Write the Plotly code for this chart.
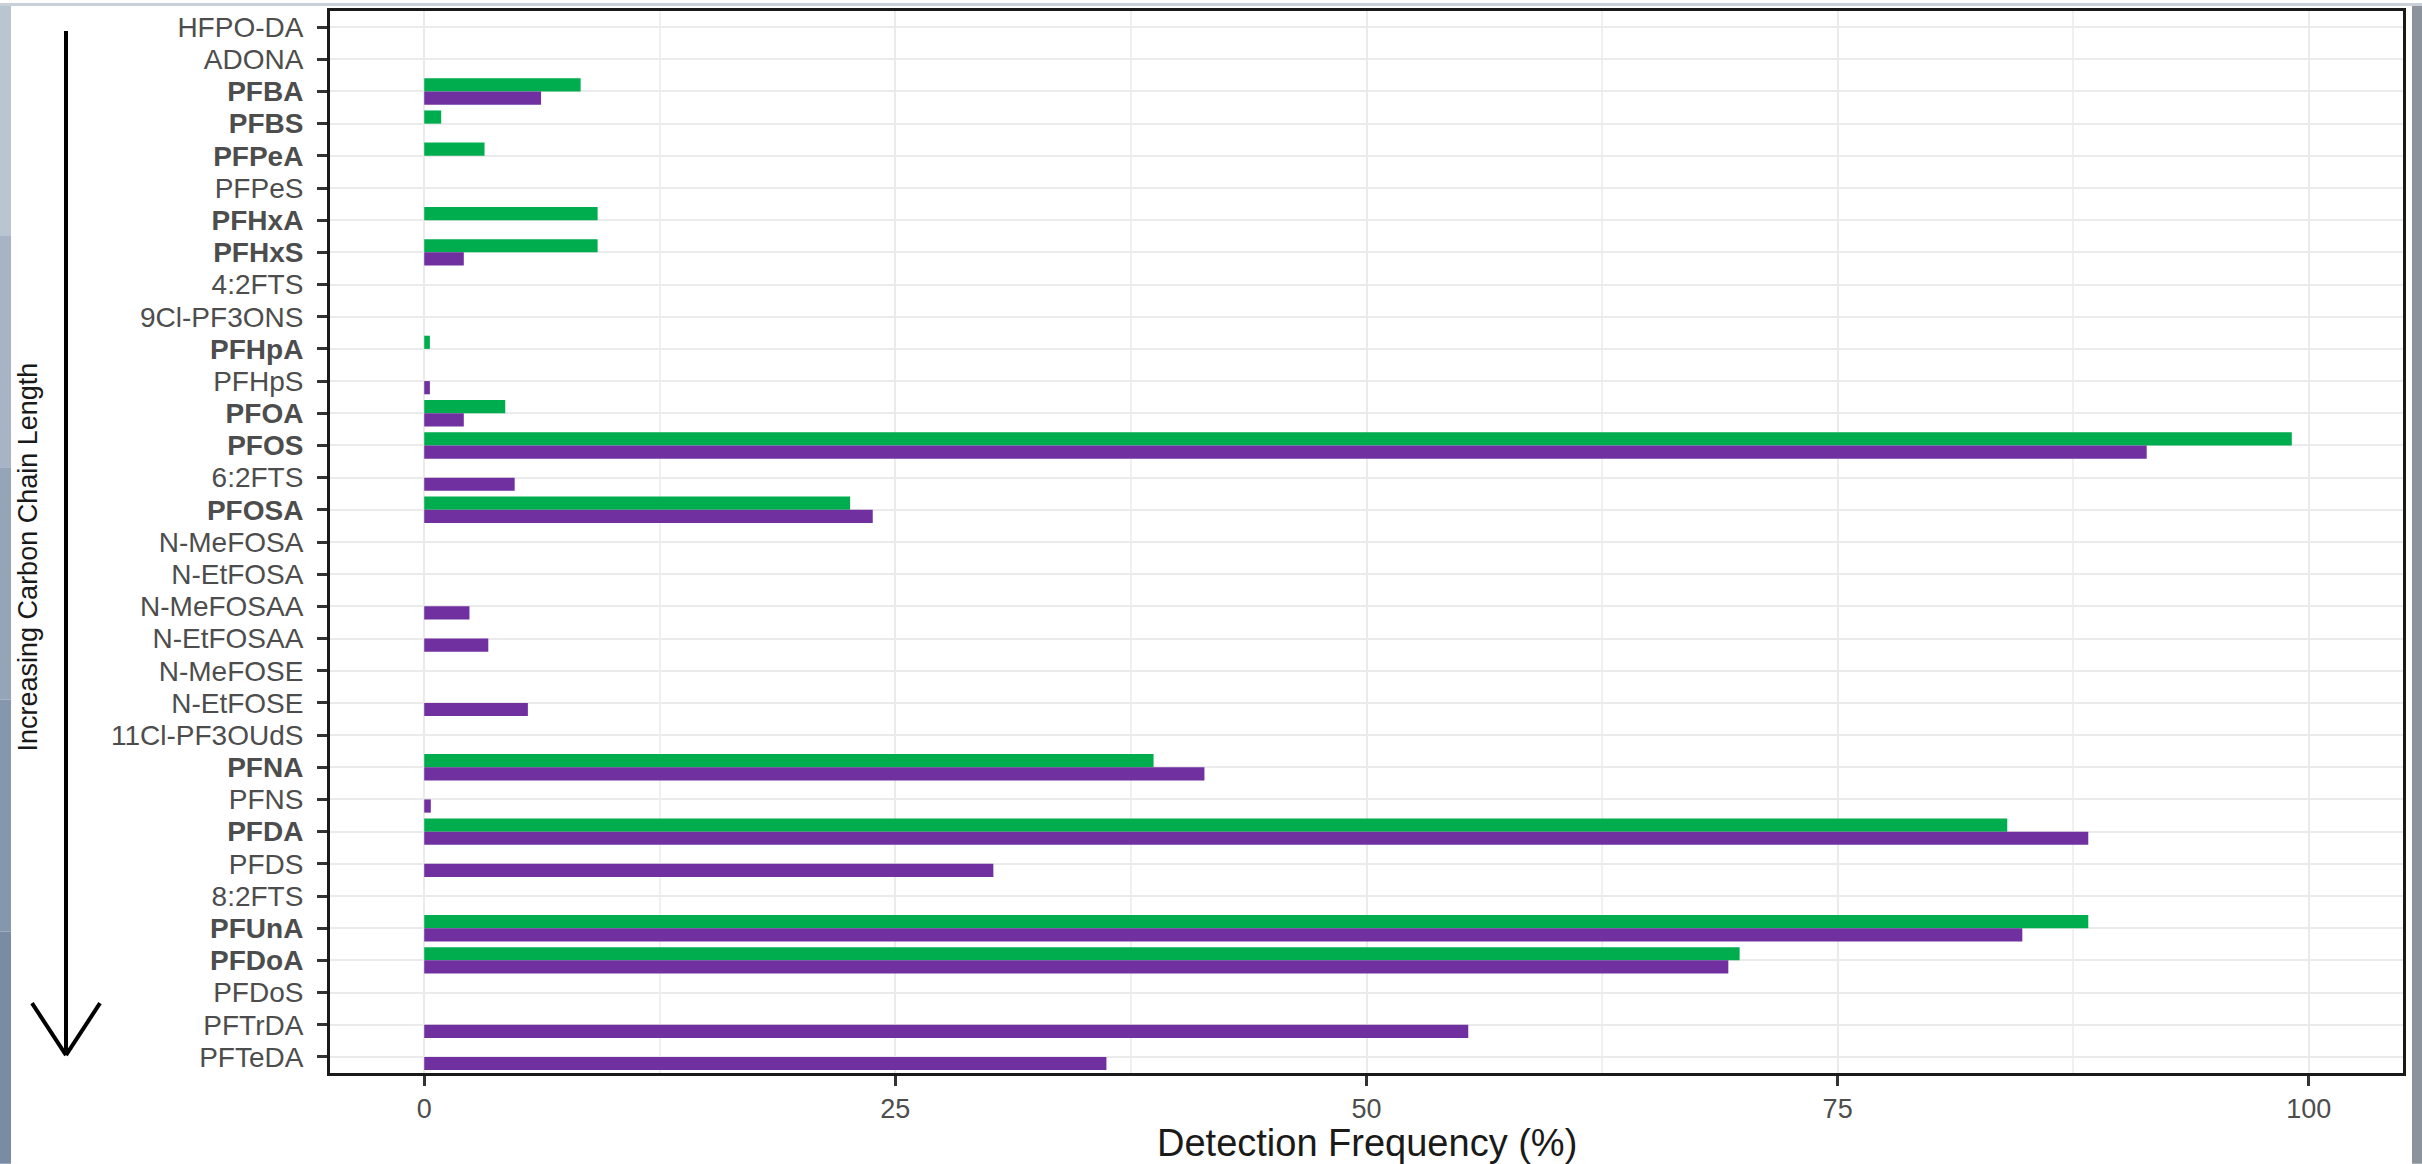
import plotly.graph_objects as go

# ---------------- data ----------------
compounds = [
    "HFPO-DA", "ADONA", "PFBA", "PFBS", "PFPeA", "PFPeS", "PFHxA", "PFHxS",
    "4:2FTS", "9Cl-PF3ONS", "PFHpA", "PFHpS", "PFOA", "PFOS", "6:2FTS", "PFOSA",
    "N-MeFOSA", "N-EtFOSA", "N-MeFOSAA", "N-EtFOSAA", "N-MeFOSE", "N-EtFOSE",
    "11Cl-PF3OUdS", "PFNA", "PFNS", "PFDA", "PFDS", "8:2FTS", "PFUnA", "PFDoA",
    "PFDoS", "PFTrDA", "PFTeDA",
]
bold_compounds = ["PFBA", "PFBS", "PFPeA", "PFHxA", "PFHxS", "PFHpA", "PFOA",
                  "PFOS", "PFOSA", "PFNA", "PFDA", "PFUnA", "PFDoA"]

green_values = [0, 0, 8.3, 0.9, 3.2, 0, 9.2, 9.2, 0, 0, 0.3, 0, 4.3, 99.1, 0, 22.6,
                0, 0, 0, 0, 0, 0, 0, 38.7, 0, 84.0, 0, 0, 88.3, 69.8, 0, 0, 0]
purple_values = [0, 0, 6.2, 0, 0, 0, 0, 2.1, 0, 0, 0, 0.3, 2.1, 91.4, 4.8, 23.8,
                 0, 0, 2.4, 3.4, 0, 5.5, 0, 41.4, 0.35, 88.3, 30.2, 0, 84.8, 69.2, 0, 55.4, 36.2]

x_ticks = [0, 25, 50, 75, 100]

# ---------------- layout geometry (pixels) ----------------
W, H = 2422, 1164
ML, MR, MT, MB = 330, 19, 8, 91
PW, PH = W - ML - MR, H - MT - MB

def px_x(p):  # pixel -> paper x
    return (p - ML) / PW

def px_y(p):  # pixel -> paper y
    return (H - MB - p) / PH

ticktext = [f"<b>{c}</b>" if c in bold_compounds else c for c in compounds]

fig = go.Figure()
fig.add_trace(go.Bar(y=compounds, x=green_values, orientation="h", name="Series 1",
                     marker=dict(color="#00AD4E", line=dict(width=0))))
fig.add_trace(go.Bar(y=compounds, x=purple_values, orientation="h", name="Series 2",
                     marker=dict(color="#7030A0", line=dict(width=0))))

font_family = "Liberation Sans, Arial, Helvetica, sans-serif"

fig.update_layout(
    width=W, height=H,
    margin=dict(l=ML, r=MR, t=MT, b=MB, pad=0),
    paper_bgcolor="white", plot_bgcolor="white",
    barmode="group", bargap=0.18, bargroupgap=0,
    showlegend=False,
    font=dict(family=font_family),
)

fig.update_xaxes(
    range=[-5, 105], tickvals=x_ticks, ticktext=[str(v) for v in x_ticks],
    showgrid=True, gridcolor="#EBEBEB", gridwidth=2,
    minor=dict(dtick=12.5, tick0=0, showgrid=True, gridcolor="#F0F0F0", gridwidth=1.5),
    ticks="outside", ticklen=10, tickwidth=2.5, tickcolor="#333333",
    tickfont=dict(size=27, color="#4D4D4D", family=font_family),
    showline=True, linecolor="#1A1A1A", linewidth=3, mirror=True,
    zeroline=False,
)
fig.update_yaxes(
    type="category", categoryorder="array", categoryarray=compounds,
    autorange="reversed",
    tickvals=compounds, ticktext=ticktext,
    showgrid=True, gridcolor="#EBEBEB", gridwidth=2,
    ticks="outside", ticklen=10, tickwidth=2.5, tickcolor="#333333",
    tickfont=dict(size=28, color="#4D4D4D", family=font_family),
    ticklabelstandoff=8,
    showline=True, linecolor="#1A1A1A", linewidth=3, mirror=True,
    zeroline=False,
)

shapes = []
# arrow on the left
shapes.append(dict(type="line", xref="paper", yref="paper",
                   x0=px_x(66), x1=px_x(66), y0=px_y(28), y1=px_y(1055),
                   line=dict(color="black", width=4)))
shapes.append(dict(type="line", xref="paper", yref="paper",
                   x0=px_x(32), x1=px_x(66), y0=px_y(1003), y1=px_y(1055),
                   line=dict(color="black", width=4)))
shapes.append(dict(type="line", xref="paper", yref="paper",
                   x0=px_x(100), x1=px_x(66), y0=px_y(1003), y1=px_y(1055),
                   line=dict(color="black", width=4)))
# screenshot frame strips
strip_cols = ["#BAC5D2", "#A7B4C5", "#95A5B8", "#8597AD", "#7A8CA3"]
n = len(strip_cols)
for i, c in enumerate(strip_cols):
    shapes.append(dict(type="rect", xref="paper", yref="paper", layer="above",
                       x0=px_x(0), x1=px_x(11), y0=px_y(H * (i + 1) / n), y1=px_y(H * i / n),
                       fillcolor=c, line=dict(width=0)))
shapes.append(dict(type="rect", xref="paper", yref="paper", layer="above",
                   x0=px_x(2412), x1=px_x(W), y0=px_y(H), y1=px_y(0),
                   fillcolor="#8C939C", line=dict(width=0)))
shapes.append(dict(type="rect", xref="paper", yref="paper", layer="above",
                   x0=px_x(0), x1=px_x(W), y0=px_y(3), y1=px_y(0),
                   fillcolor="#C9D0D8", line=dict(width=0)))
fig.update_layout(shapes=shapes)

fig.add_annotation(xref="paper", yref="paper", x=px_x(28), y=px_y(556),
                   text="Increasing Carbon Chain Length", textangle=-90, showarrow=False,
                   xanchor="center", yanchor="middle",
                   font=dict(size=27, color="#1A1A1A", family=font_family))
fig.add_annotation(xref="paper", yref="paper", x=0.5, y=px_y(1143),
                   text="Detection Frequency (%)", showarrow=False,
                   xanchor="center", yanchor="middle",
                   font=dict(size=38, color="#1A1A1A", family=font_family))

fig.write_html(
    "out.html",
    config={"displayModeBar": False},
    post_script="document.body.style.margin='0';document.body.style.padding='0';"
                "document.body.style.overflow='hidden';",
)
